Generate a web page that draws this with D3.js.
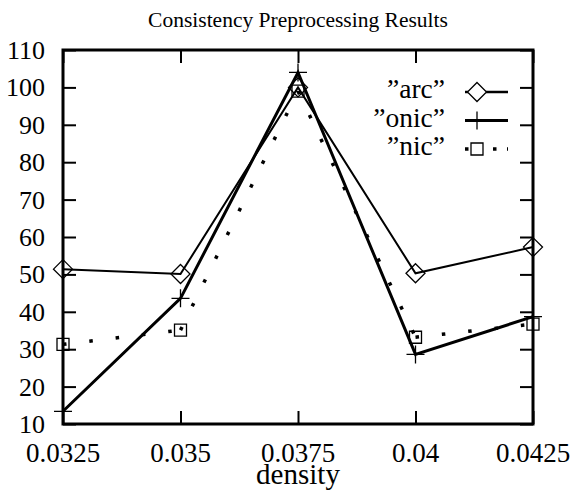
<!DOCTYPE html>
<html>
<head>
<meta charset="utf-8">
<script src="https://cdn.jsdelivr.net/npm/d3@7"></script>
<style>
  body { margin: 0; background: #fff; }
</style>
</head>
<body>
<svg id="chart" width="571" height="491"></svg>
<script>
// data
const densities = [0.0325, 0.035, 0.0375, 0.04, 0.0425];
const arcValues = [51.4, 50.1, 100, 50.3, 57.3];
const onicValues = [13.4, 43.6, 104, 28.6, 38.7];
const nicValues = [31.3, 35.1, 99, 33.2, 36.7];
const xTicks = [0.0325, 0.035, 0.0375, 0.04, 0.0425];
const xTickLabels = ["0.0325", "0.035", "0.0375", "0.04", "0.0425"];
const yTicks = [10, 20, 30, 40, 50, 60, 70, 80, 90, 100, 110];

const serif = "'Liberation Serif'";

const margin = { top: 50, left: 63, right: 38, bottom: 67 };
const width = 571 - margin.left - margin.right;
const height = 491 - margin.top - margin.bottom;

const svg = d3.select('#chart');
const g = svg.append('g')
    .attr('transform', `translate(${margin.left}, ${margin.top})`);

const x = d3.scaleLinear().domain([0.0325, 0.0425]).range([0, width]);
const y = d3.scaleLinear().domain([10, 110]).range([height, 0]);

// ticks, mirrored and pointing inward
const tickLen = 13;
function ticks(axis, tx, ty) {
    g.append('g')
        .attr('transform', `translate(${tx}, ${ty})`)
        .call(axis.tickSizeInner(-tickLen).tickSizeOuter(0).tickFormat(''))
        .call(a => a.select('.domain').remove())
        .selectAll('line').attr('stroke-width', 2);
}
ticks(d3.axisLeft(y).tickValues(yTicks), 0, 0);
ticks(d3.axisRight(y).tickValues(yTicks), width, 0);
ticks(d3.axisBottom(x).tickValues(xTicks), 0, height);
ticks(d3.axisTop(x).tickValues(xTicks), 0, 0);

// tick labels
g.selectAll('.ylab')
    .data(yTicks)
    .enter()
    .append('text')
    .attr('x', -18)
    .attr('y', d => y(d) + 9)
    .attr('text-anchor', 'end')
    .style('font-family', serif)
    .style('font-size', '26px')
    .text(d => d);

g.selectAll('.xlab')
    .data(xTicks)
    .enter()
    .append('text')
    .attr('x', d => x(d))
    .attr('y', height + 38)
    .attr('text-anchor', 'middle')
    .style('font-family', serif)
    .style('font-size', '27px')
    .text((d, i) => xTickLabels[i]);

// border
g.append('rect')
    .attr('width', width)
    .attr('height', height)
    .attr('fill', 'none')
    .attr('stroke', '#000')
    .attr('stroke-width', 3);

svg.append('text')
    .attr('x', margin.left + width / 2)
    .attr('y', 27)
    .attr('text-anchor', 'middle')
    .style('font-family', serif)
    .style('font-size', '21.5px')
    .text('Consistency Preprocessing Results');

svg.append('text')
    .attr('x', margin.left + width / 2)
    .attr('y', 484)
    .attr('text-anchor', 'middle')
    .style('font-family', serif)
    .style('font-size', '29px')
    .text('density');

const line = d3.line()
    .x(d => x(d[0]))
    .y(d => y(d[1]));

const arcPts = densities.map((d, i) => [d, arcValues[i]]);
const onicPts = densities.map((d, i) => [d, onicValues[i]]);
const nicPts = densities.map((d, i) => [d, nicValues[i]]);

// nic: dotted, pattern restarts on each segment
for (let i = 0; i < nicPts.length - 1; i++) {
    g.append('path')
        .attr('d', line([nicPts[i], nicPts[i + 1]]))
        .attr('fill', 'none')
        .attr('stroke', '#000')
        .attr('stroke-width', 3.5)
        .attr('stroke-dasharray', '3.5,23');
}

g.append('path')
    .attr('d', line(arcPts))
    .attr('fill', 'none')
    .attr('stroke', '#000')
    .attr('stroke-width', 2);

g.append('path')
    .attr('d', line(onicPts))
    .attr('fill', 'none')
    .attr('stroke', '#000')
    .attr('stroke-width', 3);

const diamond = 'M0,-9.5L9.5,0L0,9.5L-9.5,0Z';
const plus = 'M-9,0H9M0,-9V9';
const square = 'M-6,-6H6V6H-6Z';

function drawPoints(pts, shape) {
    g.selectAll(null)
        .data(pts)
        .enter()
        .append('path')
        .attr('transform', d => `translate(${x(d[0])}, ${y(d[1])})`)
        .attr('d', shape)
        .attr('fill', 'none')
        .attr('stroke', '#000')
        .attr('stroke-width', 1.3);
}
drawPoints(arcPts, diamond);
drawPoints(onicPts, plus);
drawPoints(nicPts, square);

// legend
const legend = [
    { name: '\u201Darc\u201D', shape: diamond, width: 2.5, dash: null },
    { name: '\u201Donic\u201D', shape: plus, width: 3, dash: null },
    { name: '\u201Dnic\u201D', shape: square, width: 3.5, dash: '3.5,10.5' }
];
legend.forEach((item, i) => {
    const ly = 92 + i * 28.5;
    svg.append('text')
        .attr('x', 445)
        .attr('y', ly + 6)
        .attr('text-anchor', 'end')
        .style('font-family', serif)
        .style('font-size', '27.5px')
        .text(item.name);
    svg.append('line')
        .attr('x1', 465).attr('x2', 508)
        .attr('y1', ly).attr('y2', ly)
        .attr('stroke', '#000')
        .attr('stroke-width', item.width)
        .attr('stroke-dasharray', item.dash);
    svg.append('path')
        .attr('transform', `translate(477, ${ly})`)
        .attr('d', item.shape)
        .attr('fill', item.shape === plus ? 'none' : '#fff')
        .attr('stroke', '#000')
        .attr('stroke-width', 1.3);
});
</script>
</body>
</html>
